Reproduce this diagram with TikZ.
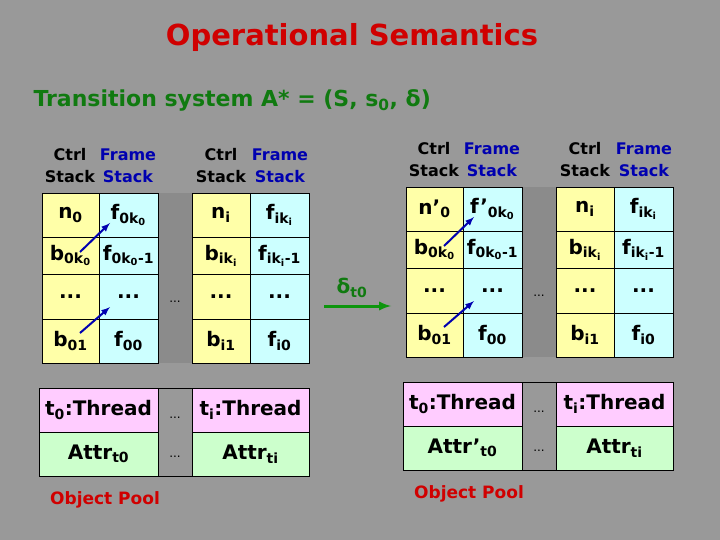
\documentclass[tikz,border=0pt]{standalone}
\usepackage{fontspec}
\setmainfont{DejaVu Sans}
\usetikzlibrary{calc}
\definecolor{bggray}{HTML}{999999}
\definecolor{ctrlyellow}{HTML}{FFFFA8}
\definecolor{framecyan}{HTML}{CCFFFF}
\definecolor{threadpink}{HTML}{FFCCFF}
\definecolor{attrgreen}{HTML}{CCFFCC}
\definecolor{titlered}{HTML}{D00000}
\definecolor{subgreen}{HTML}{107A10}
\definecolor{framblue}{HTML}{0000B0}
\newcommand{\sbs}[1]{\textsubscript{#1}}
% one cell: name, corner, corner, fill, text
\newcommand{\cell}[6]{%
  \filldraw[fill=#6, draw=black, line width=0.8pt] (#2) rectangle (#3);
  \node[celltext] (#1) at ($(#2)!.5!(#3)$) {#4};}
\newcommand{\osblock}[4]{%
  % headers
  \node[head] (hc) at (70,166) {Ctrl\\Stack};
  \node[head, text=framblue] (hf) at (128,166) {Frame\\Stack};
  \node[head] (hc2) at (221,166) {Ctrl\\Stack};
  \node[head, text=framblue] (hf2) at (280,166) {Frame\\Stack};
  \fill[bggray!85!black!60!bggray] (158,193) rectangle (192,363);
  \cell{n0}{42,193}{99,237}{#1}{}{ctrlyellow}
  \cell{f0}{99,193}{158,237}{#2}{}{framecyan}
  \cell{b0}{42,237}{99,274}{b\sbs{0k\sbs{0}}}{}{ctrlyellow}
  \cell{f1}{99,237}{158,274}{f\sbs{0k\sbs{0}-1}}{}{framecyan}
  \cell{d0}{42,274}{99,319}{\textbf{...}}{}{ctrlyellow}
  \cell{d1}{99,274}{158,319}{\textbf{...}}{}{framecyan}
  \cell{b1}{42,319}{99,363}{b\sbs{01}}{}{ctrlyellow}
  \cell{f2}{99,319}{158,363}{f\sbs{00}}{}{framecyan}
  \cell{ni}{192,193}{250,237}{n\sbs{i}}{}{ctrlyellow}
  \cell{fi}{250,193}{309,237}{f\sbs{ik\sbs{i}}}{}{framecyan}
  \cell{bi}{192,237}{250,274}{b\sbs{ik\sbs{i}}}{}{ctrlyellow}
  \cell{fi1}{250,237}{309,274}{f\sbs{ik\sbs{i}-1}}{}{framecyan}
  \cell{di0}{192,274}{250,319}{\textbf{...}}{}{ctrlyellow}
  \cell{di1}{250,274}{309,319}{\textbf{...}}{}{framecyan}
  \cell{bi1}{192,319}{250,363}{b\sbs{i1}}{}{ctrlyellow}
  \cell{fi0}{250,319}{309,363}{f\sbs{i0}}{}{framecyan}
  \node[dots] (gap) at (175,302) {...};
  \draw[linkarrow] (80,252) -- (110,223);
  \draw[linkarrow] (80,333) -- (110,307);
  % threads
  \fill[bggray] (158,388) rectangle (192,476);
  \draw[line width=0.8pt] (158,388) -- (192,388) (158,476) -- (192,476);
  \cell{t0}{39,388}{158,432}{t\sbs{0}:Thread}{}{threadpink}
  \cell{ti}{192,388}{309,432}{t\sbs{i}:Thread}{}{threadpink}
  \cell{a0}{39,432}{158,476}{#3}{}{attrgreen}
  \cell{ai}{192,432}{309,476}{Attr\sbs{ti}}{}{attrgreen}
  \node[dots] (tgap) at (175,418) {...};
  \node[dots] (agap) at (175,457) {...};
  \node[pool] (pool) at (#4,500) {Object Pool};}
\begin{document}
\begin{tikzpicture}[x=1pt, y=-1pt,
    celltext/.style={font=\fontsize{20}{22}\selectfont\bfseries, inner sep=0pt},
    head/.style={font=\fontsize{16}{22}\selectfont\bfseries, align=center, inner sep=0pt},
    dots/.style={font=\fontsize{12}{14}\selectfont, inner sep=0pt},
    pool/.style={font=\fontsize{17}{20}\selectfont\bfseries, text=titlered, inner sep=0pt},
    linkarrow/.style={-latex, line width=2pt, draw=framblue}]
  \fill[bggray] (0,0) rectangle (720,540);
  \node[font=\fontsize{29}{32}\selectfont\bfseries, text=titlered] (title) at (352,38) {Operational Semantics};
  \node[font=\fontsize{22}{26}\selectfont\bfseries, text=subgreen, anchor=west] (sub) at (30,100)
    {Transition system A* = (S, s\sbs{0}, δ)};
  \begin{scope}[name prefix=L-]
    \osblock{n\sbs{0}}{f\sbs{0k\sbs{0}}}{Attr\sbs{t0}}{105}
  \end{scope}
  \begin{scope}[shift={(364,-6)}, name prefix=R-]
    \osblock{n’\sbs{0}}{f’\sbs{0k\sbs{0}}}{Attr’\sbs{t0}}{105}
  \end{scope}
  % transition
  \coordinate (tfrom) at (324,306);
  \coordinate (tto) at (391,306);
  \draw[-latex, line width=3pt, draw=subgreen!80!green] (tfrom) -- (tto);
  \node[font=\fontsize{20}{22}\selectfont\bfseries, text=subgreen] (delta) at (352,288) {δ\sbs{t0}};
\end{tikzpicture}
\end{document}
